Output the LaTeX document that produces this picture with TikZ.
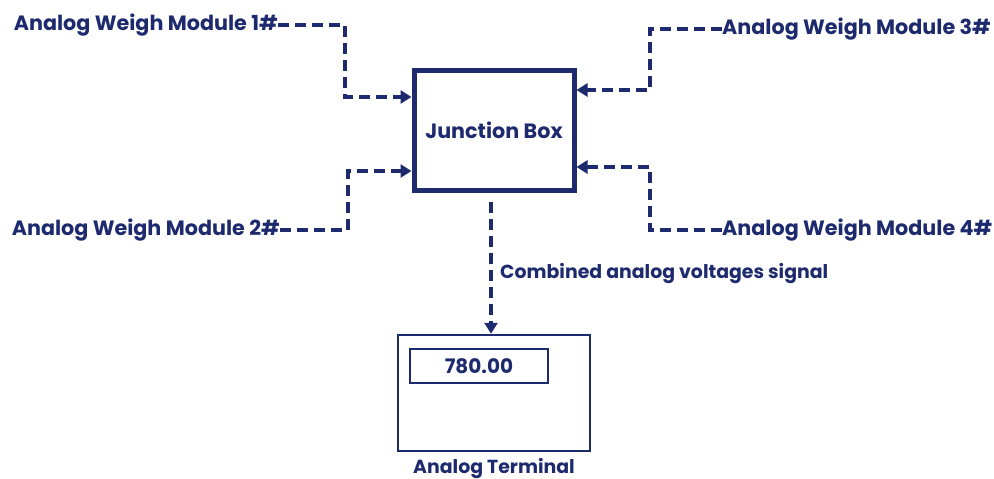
\documentclass[tikz,border=0pt]{standalone}
\usepackage{fontspec}
\setmainfont{Poppins}
\usetikzlibrary{arrows.meta}
\definecolor{navy}{RGB}{30,42,110}
\begin{document}
\begin{tikzpicture}[x=1pt,y=-1pt,
  lbl/.style={text=navy,font=\fontsize{20.7}{24}\selectfont\bfseries,inner sep=0pt},
  sml/.style={text=navy,font=\fontsize{18.9}{22}\selectfont\bfseries,inner sep=0pt},
  flow/.style={draw=navy,line width=4pt,dash pattern=on 11pt off 6pt,-{Triangle[length=11pt,width=13pt]}}]
\useasboundingbox (0,0) rectangle (994,479);
\node[draw=navy,line width=5pt,minimum width=160pt,minimum height=120pt,inner sep=0pt,lbl] (jb) at (494,130) {Junction Box};
\node[lbl,anchor=east] (m1) at (278,25) {Analog Weigh Module 1\#};
\node[lbl,anchor=east] (m2) at (280,230) {Analog Weigh Module 2\#};
\node[lbl,anchor=west] (m3) at (722,29) {Analog Weigh Module 3\#};
\node[lbl,anchor=west] (m4) at (722,230) {Analog Weigh Module 4\#};
\coordinate (p1) at (345,97);
\coordinate (p2) at (348,171);
\coordinate (p3) at (650,90);
\coordinate (p4) at (650,167);
\draw[flow] (m1.east) -| (p1) -- (jb.west |- p1);
\draw[flow] (m2.east) -| (p2) -- (jb.west |- p2);
\draw[flow] (m3.west) -| (p3) -- (jb.east |- p3);
\draw[flow] (m4.west) -| (p4) -- (jb.east |- p4);
\node[draw=navy,line width=2.5pt,minimum width=192pt,minimum height=116pt,inner sep=0pt] (at) at (494,393) {};
\node[draw=navy,line width=2.5pt,minimum width=138pt,minimum height=34pt,inner sep=0pt,font=\fontsize{20}{24}\selectfont\bfseries,text=navy] (disp) at (479,366) {780.00};
\draw[flow,shorten <=9pt] (jb.south -| 491,0) -- (at.north -| 491,0);
\node[sml,anchor=west] (sig) at (500,274) {Combined analog voltages signal};
\node[sml] (atl) at (494,469) {Analog Terminal};
\end{tikzpicture}
\end{document}
